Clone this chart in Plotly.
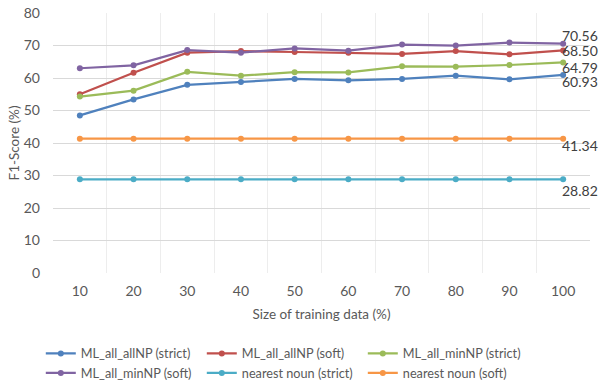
import plotly.graph_objects as go

sizes = [10, 20, 30, 40, 50, 60, 70, 80, 90, 100]
allnp_strict = [48.5, 53.4, 57.9, 58.8, 59.7, 59.3, 59.7, 60.7, 59.6, 60.93]
allnp_soft = [55.0, 61.6, 67.8, 68.3, 68.0, 67.8, 67.4, 68.3, 67.3, 68.50]
minnp_strict = [54.3, 56.1, 61.9, 60.7, 61.8, 61.7, 63.6, 63.5, 64.0, 64.79]
minnp_soft = [63.0, 63.9, 68.6, 67.8, 69.1, 68.4, 70.3, 70.0, 70.9, 70.56]
nn_strict = [28.82] * 10
nn_soft = [41.34] * 10

series = [
    ("ML_all_allNP (strict)", allnp_strict, "#4F81BD"),
    ("ML_all_allNP (soft)", allnp_soft, "#C0504D"),
    ("ML_all_minNP (strict)", minnp_strict, "#9BBB59"),
    ("ML_all_minNP (soft)", minnp_soft, "#8064A2"),
    ("nearest noun (strict)", nn_strict, "#4BACC6"),
    ("nearest noun (soft)", nn_soft, "#F79646"),
]

font = "Lato, 'Open Sans', sans-serif"
fig = go.Figure()
for name, vals, col in series:
    fig.add_trace(go.Scatter(
        x=sizes, y=vals, name=name, mode="lines+markers",
        line=dict(color=col, width=2.25),
        marker=dict(color=col, size=6, symbol="circle"),
    ))

# end labels (value, pixel shift)
labels = [(minnp_soft[-1], 8), (allnp_soft[-1], 0), (minnp_strict[-1], -5),
          (allnp_strict[-1], -7), (nn_soft[-1], -7), (nn_strict[-1], -11)]
for v, sh in labels:
    fig.add_annotation(x=sizes[-1], y=v, text=f"{v:.2f}", showarrow=False,
                       xanchor="left", yanchor="middle", xshift=-3, yshift=sh,
                       font=dict(size=14, color="#404040", family=font))

fig.update_layout(
    width=600, height=387,
    margin=dict(l=53, r=10, t=13, b=114, autoexpand=False),
    paper_bgcolor="white", plot_bgcolor="white",
    font=dict(family=font, color="#595959", size=14),
    showlegend=True,
    legend=dict(orientation="h", xref="container", yref="container",
                x=0.068, y=0.125, xanchor="left", yanchor="top",
                entrywidth=116, entrywidthmode="pixels",
                itemwidth=30, font=dict(size=12.7, color="#595959"),
                tracegroupgap=0),
    xaxis=dict(range=[5, 105], tickvals=sizes, showgrid=False, zeroline=False,
               showline=False, ticks="", ticklabelstandoff=8, automargin=False,
               title=dict(text="Size of training data (%)", font=dict(size=13.5), standoff=11),
               minor=dict(tickmode="linear", tick0=5, dtick=10, showgrid=True,
                          gridcolor="#EDEDED", gridwidth=1)),
    yaxis=dict(range=[0, 80], dtick=10, showgrid=True, gridcolor="#D9D9D9",
               zeroline=False, showline=False, ticks="", ticklabelstandoff=12,
               automargin=False,
               title=dict(text="F1-Score (%)", font=dict(size=13.5), standoff=1)),
)

fig.write_html("out.html", config={"displayModeBar": False},
               post_script="document.body.style.margin='0';")
